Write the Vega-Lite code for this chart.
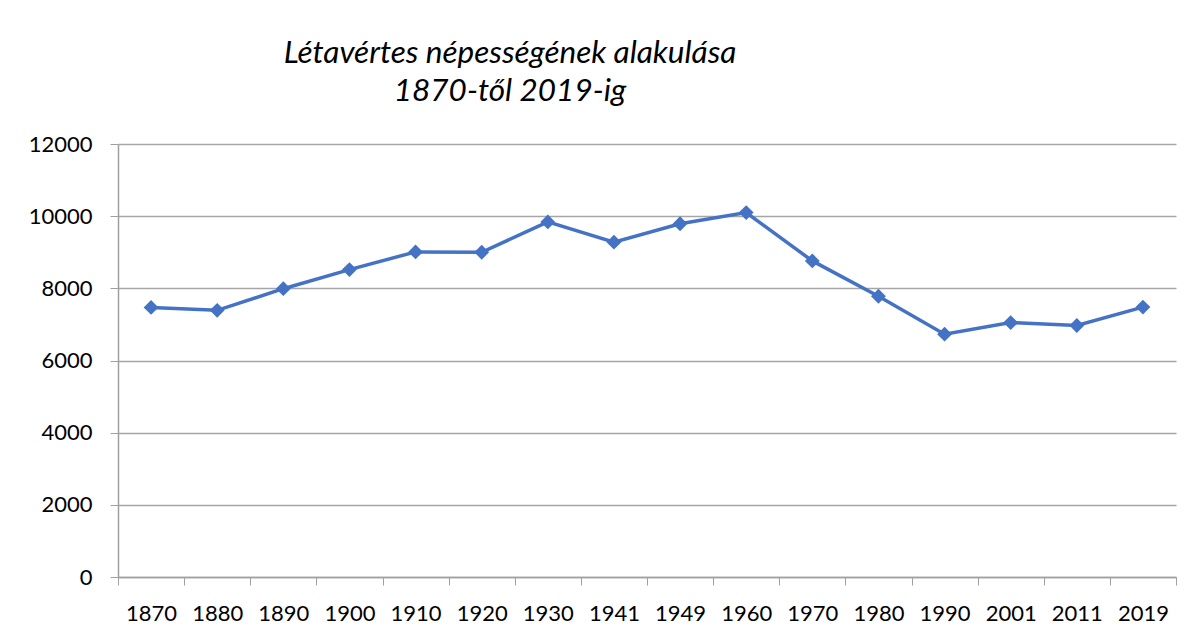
{
  "$schema": "https://vega.github.io/schema/vega-lite/v6.json",
  "autosize": {"type": "none"},
  "width": 1058,
  "height": 433,
  "padding": {"left": 118, "top": 144, "right": 19, "bottom": 60},
  "background": "white",
  "title": {
    "text": ["Létavértes népességének alakulása", "1870-től 2019-ig"],
    "font": "Lato",
    "fontStyle": "italic",
    "fontWeight": "normal",
    "fontSize": 31.5,
    "lineHeight": 38,
    "color": "#000000",
    "anchor": "middle",
    "align": "center",
    "dx": -137,
    "offset": 26
  },
  "data": {
    "values": [
      {"year": "1870", "pop": 7470},
      {"year": "1880", "pop": 7390},
      {"year": "1890", "pop": 7990},
      {"year": "1900", "pop": 8520},
      {"year": "1910", "pop": 9010},
      {"year": "1920", "pop": 9000},
      {"year": "1930", "pop": 9840},
      {"year": "1941", "pop": 9280},
      {"year": "1949", "pop": 9790},
      {"year": "1960", "pop": 10100},
      {"year": "1970", "pop": 8760},
      {"year": "1980", "pop": 7780},
      {"year": "1990", "pop": 6730},
      {"year": "2001", "pop": 7050},
      {"year": "2011", "pop": 6970},
      {"year": "2019", "pop": 7480}
    ]
  },
  "encoding": {
    "x": {
      "field": "year",
      "type": "ordinal",
      "sort": null,
      "scale": {"paddingInner": 0, "paddingOuter": 0},
      "axis": {
        "title": null,
        "labelAngle": 0,
        "labelFont": "Lato",
        "labelFontSize": 22,
        "labelColor": "#000000",
        "labelPadding": 18,
        "tickBand": "extent",
        "tickSize": 8,
        "tickColor": "#A0A0A0",
        "domainColor": "#A0A0A0",
        "domainWidth": 1.5,
        "grid": false
      }
    },
    "y": {
      "field": "pop",
      "type": "quantitative",
      "scale": {"domain": [0, 12000], "nice": false},
      "axis": {
        "title": null,
        "values": [0, 2000, 4000, 6000, 8000, 10000, 12000],
        "format": "d",
        "labelFont": "Lato",
        "labelFontSize": 22,
        "labelColor": "#000000",
        "labelPadding": 18,
        "tickSize": 8,
        "tickColor": "#A0A0A0",
        "domainColor": "#A0A0A0",
        "domainWidth": 1.5,
        "grid": true,
        "gridColor": "#A6A6A6",
        "gridWidth": 1.5
      }
    }
  },
  "layer": [
    {"mark": {"type": "line", "color": "#4472C4", "strokeWidth": 3.5}},
    {"mark": {"type": "point", "shape": "diamond", "filled": true, "opacity": 1, "color": "#4472C4", "size": 220}}
  ],
  "config": {
    "view": {"stroke": null}
  }
}
